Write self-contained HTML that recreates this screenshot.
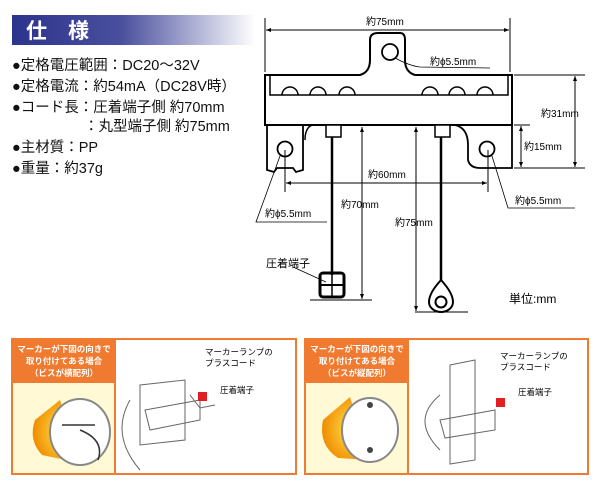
<!DOCTYPE html>
<html><head><meta charset="utf-8"><style>
html,body{margin:0;padding:0;background:#fff;width:600px;height:484px;overflow:hidden}
svg{display:block}
text{font-family:"Liberation Sans","Noto Sans CJK JP",sans-serif}
</style></head><body>
<svg width="600" height="484" viewBox="0 0 600 484" xmlns="http://www.w3.org/2000/svg">
<defs>
<linearGradient id="tg" x1="0" x2="1"><stop offset="0" stop-color="#2b348c"/><stop offset="0.45" stop-color="#4a4f9e"/><stop offset="1" stop-color="#ffffff"/></linearGradient>
<radialGradient id="amb" cx="0.6" cy="0.5" r="0.6"><stop offset="0" stop-color="#ffe24a"/><stop offset="1" stop-color="#f08a00"/></radialGradient>
<marker id="ar" viewBox="0 0 10 10" refX="10" refY="5" markerWidth="7" markerHeight="5" orient="auto-start-reverse"><path d="M0,1 L10,5 L0,9 z" fill="#000"/></marker>
</defs>
<rect x="12" y="15" width="243" height="30" fill="url(#tg)"/>
<text x="26" y="38" font-size="21" font-weight="bold" fill="#fff">仕　様</text>
<g font-size="14.5" fill="#111">
<text x="12" y="70">●定格電圧範囲：DC20～32V</text>
<text x="12" y="91">●定格電流：約54mA（DC28V時）</text>
<text x="12" y="112">●コード長：圧着端子側 約70mm</text>
<text x="84" y="131">：丸型端子側 約75mm</text>
<text x="12" y="152">●主材質：PP</text>
<text x="12" y="173">●重量：約37g</text>
</g>
<g stroke="#000" fill="none" stroke-width="1">
<line x1="265" y1="18" x2="265" y2="72"/><line x1="510" y1="18" x2="510" y2="72"/>
<line x1="266" y1="30" x2="509" y2="30" marker-start="url(#ar)" marker-end="url(#ar)"/>
<path d="M265,75 L360,75 Q370,72 370,60 L370,40 Q370,33 378,33 L400,33 Q405,33 405,40 L405,60 Q405,72 415,75 L512,75 L512,125 L265,125 Z" stroke-width="2" fill="#fff"/>
<circle cx="390" cy="52" r="8" stroke-width="1.8"/>
<path d="M270,76 L270,95 L508,95 L508,76" stroke-width="1.5"/>
<g stroke-width="1.5">
<path d="M282,95 a8,8 0 0 1 16,0"/><path d="M310,95 a8,8 0 0 1 16,0"/><path d="M339,95 a8,8 0 0 1 16,0"/>
<path d="M422,95 a8,8 0 0 1 16,0"/><path d="M449,95 a8,8 0 0 1 16,0"/><path d="M477,95 a8,8 0 0 1 16,0"/>
</g>
<path d="M267,125 L267,170 L274,172 L277,168 L293,168 L296,172 L303,170 L303,125" stroke-width="1.8"/>
<path d="M312,125 Q305,128 305,140" stroke-width="1.5"/>
<path d="M455,125 Q468,128 468,145 L468,160 Q470,168 480,168 L512,168 L512,125" stroke-width="1.8"/>
<circle cx="285" cy="149" r="7.5" stroke-width="1.8"/><circle cx="487" cy="149" r="7.5" stroke-width="1.8"/>
<rect x="326" y="125" width="15" height="12" stroke-width="1.5" fill="#fff"/>
<rect x="435" y="125" width="15" height="12" stroke-width="1.5" fill="#fff"/>
<line x1="332" y1="137" x2="332" y2="275" stroke-width="2.5"/>
<line x1="441" y1="137" x2="441" y2="280" stroke-width="2.5"/>
<rect x="320" y="273" width="24" height="24" stroke-width="3" rx="3"/>
<line x1="320" y1="285" x2="344" y2="285" stroke-width="2"/><line x1="332" y1="273" x2="332" y2="297" stroke-width="1.5"/>
<path d="M441,280 Q429,293 429,302 a12,10 0 0 0 24,0 Q453,293 441,280" stroke-width="2"/>
<circle cx="441" cy="302" r="5.5" stroke-width="2"/>
<line x1="310" y1="300" x2="372" y2="300"/><line x1="415" y1="312" x2="468" y2="312"/>
<line x1="362" y1="127" x2="362" y2="299" marker-start="url(#ar)" marker-end="url(#ar)"/>
<line x1="416" y1="127" x2="416" y2="311" marker-start="url(#ar)" marker-end="url(#ar)"/>
<line x1="285" y1="150" x2="285" y2="192"/><line x1="488" y1="150" x2="488" y2="192"/>
<line x1="286" y1="183" x2="487" y2="183" marker-start="url(#ar)" marker-end="url(#ar)"/>
<line x1="514" y1="75" x2="585" y2="75"/><line x1="514" y1="168" x2="585" y2="168"/><line x1="514" y1="125" x2="530" y2="125"/>
<line x1="575" y1="76" x2="575" y2="167" marker-start="url(#ar)" marker-end="url(#ar)"/>
<line x1="521" y1="126" x2="521" y2="167" marker-start="url(#ar)" marker-end="url(#ar)"/>
<path d="M395,58 Q410,66 420,67 L490,68" stroke-width="0.8"/>
<path d="M280,156 L256,222 L327,222" stroke-width="0.8"/>
<path d="M492,156 L508,208 L575,208" stroke-width="0.8"/>
<path d="M293,267 L326,282" stroke-width="0.8"/>
</g>
<g font-size="10" fill="#000">
<text x="366" y="25">約75mm</text>
<text x="430" y="65">約ϕ5.5mm</text>
<text x="541" y="117">約31mm</text>
<text x="524" y="150">約15mm</text>
<text x="368" y="178">約60mm</text>
<text x="341" y="208">約70mm</text>
<text x="395" y="226">約75mm</text>
<text x="265" y="217">約ϕ5.5mm</text>
<text x="515" y="204">約ϕ5.5mm</text>
<text x="266" y="267" font-size="11">圧着端子</text>
<text x="509" y="303" font-size="12">単位:mm</text>
</g>
<g>
<rect x="12" y="339" width="284" height="135" fill="#fff" stroke="#f07a30" stroke-width="2"/>
<rect x="13" y="340" width="102" height="43" fill="#f07a30"/>
<rect x="13" y="383" width="102" height="90" fill="#fff9d6"/>
<line x1="115" y1="340" x2="115" y2="473" stroke="#f07a30" stroke-width="2"/>
<g font-size="8.5" font-weight="bold" fill="#fff" text-anchor="middle"><text x="64" y="352">マーカーが下図の向きで</text><text x="64" y="364">取り付けてある場合</text><text x="64" y="376">（ビスが横配列）</text></g>
<path d="M60,400 L35,420 Q28,440 42,455 L80,463 Z" fill="url(#amb)"/>
<ellipse cx="80" cy="432" rx="30" ry="33" fill="#fff" stroke="#888" stroke-width="2"/>
<path d="M62,425 L95,425 M80,430 Q105,440 98,460" stroke="#333" stroke-width="1.5" fill="none"/>
<g stroke="#666" fill="none" stroke-width="1"><path d="M140,385 L185,380 L185,440 L140,445 Z" fill="#fff"/><path d="M130,400 Q110,435 140,470"/><path d="M145,410 L200,400 L200,420 L150,430 Z"/><path d="M190,395 L200,408 L215,405"/></g>
<rect x="198" y="392" width="9" height="9" fill="#e02020"/>
<g font-size="8.5" fill="#000"><text x="205" y="355">マーカーランプの</text><text x="205" y="366">プラスコード</text><text x="220" y="393">圧着端子</text></g>
</g>
<g>
<rect x="305" y="339" width="283" height="135" fill="#fff" stroke="#f07a30" stroke-width="2"/>
<rect x="306" y="340" width="102" height="43" fill="#f07a30"/>
<rect x="306" y="383" width="102" height="90" fill="#fff9d6"/>
<line x1="408" y1="340" x2="408" y2="473" stroke="#f07a30" stroke-width="2"/>
<g font-size="8.5" font-weight="bold" fill="#fff" text-anchor="middle"><text x="357" y="352">マーカーが下図の向きで</text><text x="357" y="364">取り付けてある場合</text><text x="357" y="376">（ビスが縦配列）</text></g>
<path d="M350,397 L323,420 Q318,445 338,458 L370,460 Z" fill="url(#amb)"/>
<ellipse cx="370" cy="430" rx="28" ry="32" fill="#fff" stroke="#888" stroke-width="2"/>
<circle cx="370" cy="405" r="3" fill="#444"/><circle cx="370" cy="450" r="3" fill="#444"/>
<g stroke="#666" fill="none" stroke-width="1"><path d="M450,365 L475,360 L475,460 L450,464 Z" fill="#fff"/><path d="M440,395 Q410,420 440,450"/><path d="M440,420 L495,410 L495,430 L445,438 Z"/></g>
<rect x="496" y="398" width="9" height="9" fill="#e02020"/>
<g font-size="8.5" fill="#000"><text x="500" y="359">マーカーランプの</text><text x="500" y="370">プラスコード</text><text x="518" y="395">圧着端子</text></g>
</g>
</svg>
</body></html>
